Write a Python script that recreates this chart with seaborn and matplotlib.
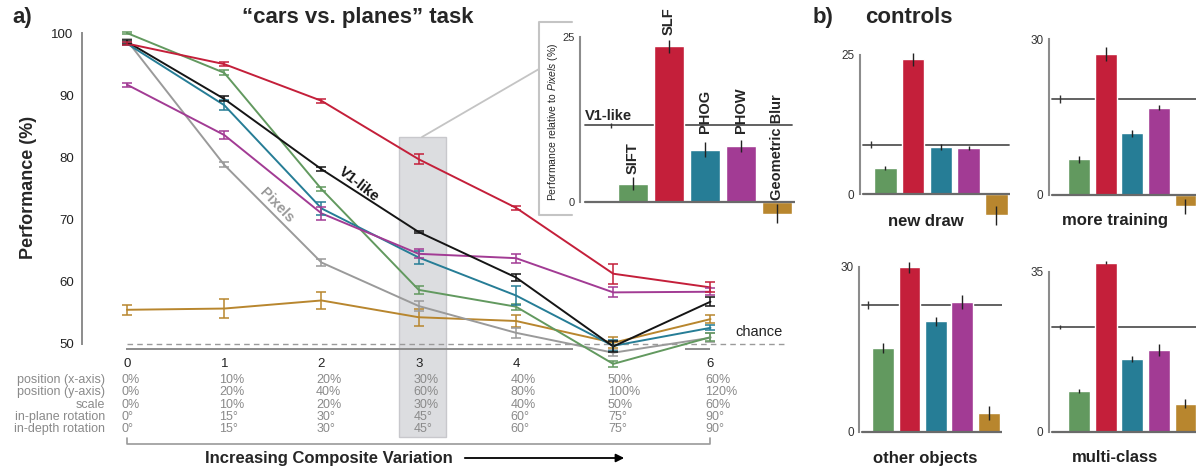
import numpy as np
import pandas as pd
import seaborn as sns
from matplotlib import pyplot as plt
from matplotlib.transforms import blended_transform_factory
from matplotlib.lines import Line2D
from matplotlib.patches import Rectangle

sns.set_style('white')
plt.rcParams['font.family'] = ['Liberation Sans', 'DejaVu Sans']
plt.rcParams['mathtext.fontset'] = 'custom'
plt.rcParams['mathtext.rm'] = 'Liberation Sans'
plt.rcParams['mathtext.it'] = 'Liberation Sans:italic'

W, H = 1196, 468

# ---- data: panel a) line plot
levels = [0, 1, 2, 3, 4, 5, 6]
models = ['Geometric Blur', 'Pixels', 'SIFT', 'PHOG', 'PHOW', 'V1-like', 'SLF']
palette = {'SLF': '#c41f3a', 'PHOW': '#a23b94', 'V1-like': '#151515', 'PHOG': '#267d96',
           'SIFT': '#62995f', 'Pixels': '#9a9a9a', 'Geometric Blur': '#b8862e'}
perf = {
    'SLF':            [98.3, 95.0, 89.1, 79.7, 71.9, 61.3, 59.1],
    'PHOW':           [91.7, 83.6, 71.0, 64.5, 63.8, 58.3, 58.4],
    'V1-like':        [98.6, 89.4, 78.1, 68.0, 60.7, 49.6, 56.8],
    'PHOG':           [98.3, 88.4, 71.8, 63.9, 57.8, 49.7, 52.6],
    'SIFT':           [100.0, 93.6, 74.9, 58.7, 56.0, 46.8, 51.1],
    'Pixels':         [98.8, 78.8, 63.1, 56.1, 51.8, 48.6, 51.0],
    'Geometric Blur': [55.5, 55.7, 57.0, 54.3, 53.7, 50.2, 54.0],
}
perf_err = {
    'SLF':            [0.3, 0.3, 0.3, 0.8, 0.3, 1.6, 0.8],
    'PHOW':           [0.3, 0.6, 1.0, 0.7, 0.7, 0.8, 0.6],
    'V1-like':        [0.3, 0.4, 0.3, 0.1, 0.5, 0.9, 0.7],
    'PHOG':           [0.2, 0.8, 1.1, 1.0, 1.5, 0.9, 0.4],
    'SIFT':           [0.2, 0.4, 0.3, 0.7, 0.5, 0.5, 0.6],
    'Pixels':         [0.2, 0.4, 0.6, 0.8, 0.8, 0.5, 0.7],
    'Geometric Blur': [0.8, 1.5, 1.3, 1.4, 1.0, 0.9, 0.6],
}
tick_levels = [0, 1, 2, 3, 4, 6]
var_rows = ['position (x-axis)', 'position (y-axis)', 'scale', 'in-plane rotation', 'in-depth rotation']
var_vals = [
    ['0%', '10%', '20%', '30%', '40%', '50%', '60%'],
    ['0%', '20%', '40%', '60%', '80%', '100%', '120%'],
    ['0%', '10%', '20%', '30%', '40%', '50%', '60%'],
    ['0°', '15°', '30°', '45°', '60°', '75°', '90°'],
    ['0°', '15°', '30°', '45°', '60°', '75°', '90°'],
]

# ---- data: bar charts (performance relative to Pixels)
bar_models = ['SIFT', 'SLF', 'PHOG', 'PHOW', 'Geometric Blur']
bar_colors = [palette[m] for m in bar_models]
inset_vals = [2.7, 23.6, 7.9, 8.4, -1.8]
inset_err = [1.0, 1.0, 1.1, 0.9, 1.5]
inset_v1 = 11.6
inset_v1_err = 0.4
inset_label_y = [4.2, 25.3, 10.4, 10.4, 0.3]

ctrl_names = ['new draw', 'more training', 'other objects', 'multi-class']
ctrl_vals = [[4.7, 24.2, 8.5, 8.3, -3.8],
             [6.9, 27.2, 11.9, 16.8, -2.2],
             [15.2, 29.9, 20.1, 23.6, 3.4],
             [8.9, 37.0, 15.9, 17.9, 6.1]]
ctrl_err = [[0.3, 1.2, 0.5, 0.4, 1.7],
            [0.7, 1.3, 0.7, 0.5, 1.4],
            [0.9, 1.0, 0.8, 1.2, 1.2],
            [0.4, 0.3, 0.6, 1.3, 1.0]]
ctrl_v1 = [8.9, 18.5, 23.0, 22.9]
ctrl_v1_err = [0.6, 0.8, 0.7, 0.4]
ctrl_top = [25, 30, 30, 35]

SPINE = '#8c8c8c'
TXT_GRAY = '#8a8a8a'

fig = plt.figure(figsize=(W / 100, H / 100), dpi=100)


def px_axes(left, right, top, bottom):
    return fig.add_axes([left / W, 1 - bottom / H, (right - left) / W, (bottom - top) / H])


def fy(py):
    return 1 - py / H


def fig_line(xs, ys, **kw):
    fig.add_artist(Line2D([x / W for x in xs], [fy(y) for y in ys], transform=fig.transFigure, **kw))


# ================= panel a) =================
ax = px_axes(82, 790, 26.8, 349)
ax.set_facecolor('none')
df = pd.DataFrame([(m, l, v) for m in models for l, v in zip(levels, perf[m])],
                  columns=['model', 'level', 'perf'])
sns.lineplot(data=df, x='level', y='perf', hue='model', hue_order=models, palette=palette,
             lw=1.4, legend=False, ax=ax, zorder=3)
for line in ax.lines:
    line.set_clip_on(False)
for m in models:
    ax.errorbar(levels, perf[m], yerr=perf_err[m], fmt='none', ecolor=palette[m],
                elinewidth=1.1, capsize=3.5, capthick=1.1, zorder=3, clip_on=False)
ax.set_xlim(-0.4627, 6.8175)
ax.set_ylim(49.196, 101)
ax.plot([0, 6.8], [50, 50], ls=(0, (4, 3)), color='#9a9a9a', lw=1, zorder=1)
ax.text(6.26, 51.98, 'chance', ha='left', va='center', fontsize=10.5, color='#222')

# highlighted level 3 box (extends over the variation table)
ax.add_patch(Rectangle((2.797, 35.05), 0.483, 83.3 - 35.05, facecolor='#dcdde0',
                       edgecolor='#c8c8cc', lw=1, zorder=0, clip_on=False))

ax.text(2.386, 75.7, 'V1-like', rotation=-38, rotation_mode='anchor', ha='center', va='center',
        fontsize=10.5, fontweight='bold', color='#151515')
ax.text(1.537, 72.35, 'Pixels', rotation=-46, rotation_mode='anchor', ha='center', va='center',
        fontsize=10.5, fontweight='bold', color='#9a9a9a')

sns.despine(ax=ax)
for s in ['left', 'bottom']:
    ax.spines[s].set_color(SPINE)
    ax.spines[s].set_linewidth(1.4)
ax.spines['left'].set_bounds(50, 100)
ax.spines['bottom'].set_bounds(0, 4.576)
ax.plot([5.738, 6], [0, 0], color=SPINE, lw=1.4, transform=ax.get_xaxis_transform(),
        clip_on=False, solid_capstyle='butt')
ax.set_yticks([50, 60, 70, 80, 90, 100])
ax.set_xticks(tick_levels)
ax.tick_params(axis='y', length=4, width=1, color=SPINE, pad=2, labelsize=9.5, labelcolor='#222')
ax.tick_params(axis='x', length=3, width=1, color=SPINE, pad=3.5, labelsize=9.5, labelcolor='#222')
ax.set_xlabel('')
ax.set_ylabel('Performance (%)', fontsize=13, fontweight='bold')
ax.yaxis.set_label_coords(-0.063, 0.5)

bt = blended_transform_factory(ax.transData, fig.transFigure)
for i, (row, vals) in enumerate(zip(var_rows, var_vals)):
    y = fy(380 + 12.25 * i)
    fig.text(105 / W, y, row, ha='right', va='center', fontsize=9, color=TXT_GRAY)
    for lvl, v in zip(levels, vals):
        ax.text(lvl - 0.055, y, v, transform=bt, ha='left', va='center', fontsize=9, color=TXT_GRAY)

# bracket and arrow
ax.plot([0, 0, 6, 6], [fy(438), fy(444), fy(444), fy(438)], transform=bt, color='#9a9a9a',
        lw=1.2, clip_on=False)
ax.text(2.072, fy(458), 'Increasing Composite Variation', transform=bt, ha='center', va='center',
        fontsize=12, fontweight='bold')
ax.annotate('', xy=(5.141, fy(458)), xytext=(3.445, fy(458)), xycoords=bt, textcoords=bt,
            arrowprops=dict(arrowstyle='-|>', color='k', lw=1.3, mutation_scale=12))

# connector from box to inset
fig_line([422, 539], [137, 69], color='#c4c4c4', lw=1.3)
fig_line([572, 539, 539, 572], [21.5, 21.5, 215, 215], color='#c4c4c4', lw=1.5)

fig.text(12 / W, fy(17.5), 'a)', ha='left', va='center', fontsize=16, fontweight='bold')
fig.text(358 / W, fy(17.5), '\u201ccars vs. planes\u201d task', ha='center', va='center',
         fontsize=16, fontweight='bold')


def bar_panel(ax, vals, errs, v1, v1_err, v1_x, span, ytop, ylim, xlim, labsize=8.5):
    ax.set_facecolor('none')
    ax.plot(span, [v1, v1], color='#555555', lw=1.3, zorder=1)
    ax.errorbar([v1_x], [v1], yerr=[v1_err], fmt='none', ecolor='#333', elinewidth=1, zorder=1)
    sns.barplot(x=bar_models, y=vals, hue=bar_models, palette=bar_colors, saturation=1,
                legend=False, width=0.82, ax=ax, zorder=2)
    ax.errorbar(range(len(vals)), vals, yerr=errs, fmt='none', ecolor='#222', elinewidth=1, zorder=4)
    ax.plot([span[0], xlim[1]], [0, 0], color='#6a6a6a', lw=1.6, zorder=3)
    ax.set_xlim(*xlim)
    ax.set_ylim(*ylim)
    ax.set_xticks([])
    ax.set_xlabel('')
    ax.set_ylabel('')
    sns.despine(ax=ax, bottom=True)
    ax.spines['left'].set_bounds(0, ytop)
    ax.spines['left'].set_color(SPINE)
    ax.spines['left'].set_linewidth(1.5)
    ax.set_yticks([0, ytop])
    ax.tick_params(axis='y', length=2, width=0.8, color=SPINE, pad=2, labelsize=labsize,
                   labelcolor='#333')


# ================= inset =================
ins = px_axes(580, 795, 30.4, 228.05)
bar_panel(ins, inset_vals, inset_err, inset_v1, inset_v1_err, -0.62, [-1.33, 4.42], 25,
          (-4, 26), (-1.472, 4.5), labsize=8)
ins.text(-1.33, inset_v1 + 0.35, 'V1-like', ha='left', va='bottom', fontsize=10.5, fontweight='bold')
for i, (name, ly) in enumerate(zip(bar_models, inset_label_y)):
    ins.text(i, ly, name, rotation=90, ha='center', va='bottom', fontsize=10.5, fontweight='bold')
fig.text(553 / W, fy(121.5), r'Performance relative to $\mathit{Pixels}$ (%)', rotation=90,
         ha='center', va='center', fontsize=7.5)

# ================= panel b) =================
fig.text(813 / W, fy(17.5), 'b)', ha='left', va='center', fontsize=16, fontweight='bold')
fig.text(865 / W, fy(17.5), 'controls', ha='left', va='center', fontsize=16, fontweight='bold')

ctrl_boxes = [(860, 1010.4, 49.4, 227.7), (1049, 1197.4, 34.1, 220.95),
              (859.3, 1002, 261.2, 437.2), (1049, 1197.4, 258.0, 436.3)]
ctrl_ylims = [(-6, 26), (-5, 31), (-1, 31), (-1, 38)]
ctrl_xlims = [(-0.91, 4.5), (-1.128, 4.45), (-0.894, 4.5), (-1.128, 4.45)]
ctrl_spans = [[-0.8, 4.45], [-1.0, 4.45], [-0.8, 4.6], [-1.0, 4.45]]
ctrl_v1x = [-0.53, -0.71, -0.55, -0.71]
ctrl_title_pos = [(926, 221), (1115, 221), (925, 458), (1115, 458)]

for k in range(4):
    cax = px_axes(*ctrl_boxes[k])
    bar_panel(cax, ctrl_vals[k], ctrl_err[k], ctrl_v1[k], ctrl_v1_err[k], ctrl_v1x[k],
              ctrl_spans[k], ctrl_top[k], ctrl_ylims[k], ctrl_xlims[k])
    tx, ty = ctrl_title_pos[k]
    fig.text(tx / W, fy(ty), ctrl_names[k], ha='center', va='center', fontsize=12,
             fontweight='bold', color='#222')

fig.savefig('out.png', dpi=100)
